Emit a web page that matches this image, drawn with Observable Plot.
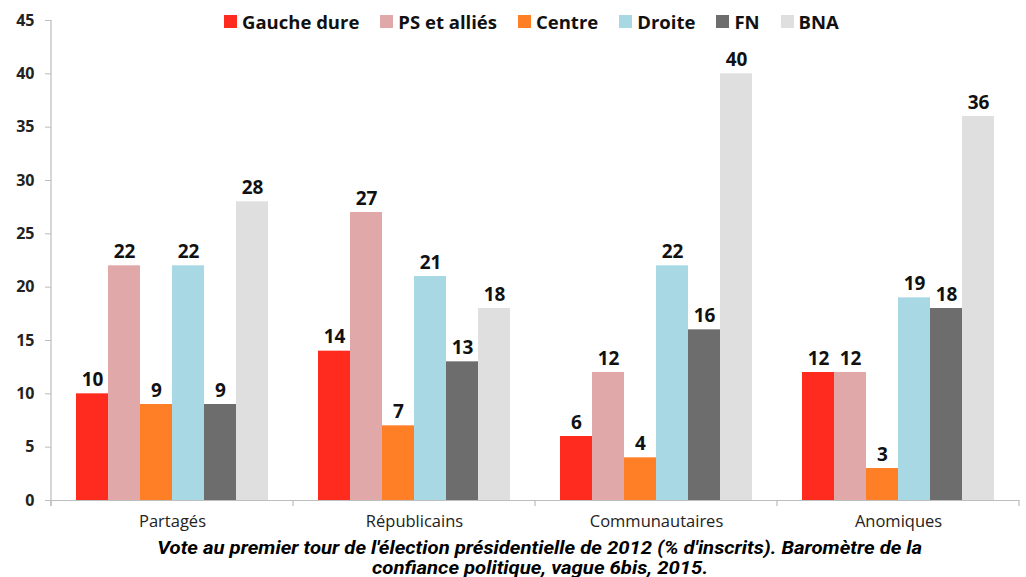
<!DOCTYPE html>
<html>
<head>
<meta charset="utf-8">
<script src="https://cdn.jsdelivr.net/npm/d3@7"></script>
<script src="https://cdn.jsdelivr.net/npm/@observablehq/plot@0.6"></script>
<style>
  html, body { margin: 0; padding: 0; background: #fff; }
  #wrap { position: relative; width: 1026px; height: 577px; overflow: hidden; }
  #legend { position: absolute; top: 9px; left: 224px; display: flex; align-items: center;
            font-family: "Open Sans", sans-serif; font-weight: 700; font-size: 18.5px; color: #111; }
  #legend .item { display: flex; align-items: center; margin-right: 21px; }
  #legend .sw { width: 13px; height: 13px; margin-right: 5px; }
  #caption { font-family: "Roboto", "Liberation Sans Narrow", sans-serif; font-weight: 700;
             font-style: italic; font-size: 19px; line-height: 20px; text-align: center; color: #000;
             width: 1026px; margin-top: 4px; padding-left: 54px; box-sizing: border-box; }
  #caption div { white-space: nowrap; display: block; }
  #caption span { display: inline-block; transform-origin: center center; }
</style>
</head>
<body>
<div id="wrap">
  <div id="chart"></div>
  <div id="legend"></div>
  <div id="caption"></div>
</div>
<script>
const groups = ["Partagés", "Républicains", "Communautaires", "Anomiques"];
const series = ["Gauche dure", "PS et alliés", "Centre", "Droite", "FN", "BNA"];
const colors = ["#ff2b1e", "#e0a8a8", "#ff7f27", "#a8d8e4", "#6d6d6d", "#dfdfdf"];
const gaucheDure = [10, 14, 6, 12];
const psAllies = [22, 27, 12, 12];
const centre = [9, 7, 4, 3];
const droite = [22, 21, 22, 19];
const fn = [9, 13, 16, 18];
const bna = [28, 18, 40, 36];
const yTicks = [0, 5, 10, 15, 20, 25, 30, 35, 40, 45];
const captionLines = [
  "Vote au premier tour de l'élection présidentielle de 2012 (% d'inscrits). Baromètre de la",
  "confiance politique, vague 6bis, 2015."
];

const valuesBySeries = [gaucheDure, psAllies, centre, droite, fn, bna];
const data = [];
groups.forEach((g, i) => series.forEach((s, j) => data.push({group: g, series: s, value: valuesBySeries[j][i]})));

const chart = Plot.plot({
  width: 1026,
  height: 534,
  marginLeft: 50,
  marginRight: 6,
  marginTop: 20,
  marginBottom: 34,
  style: {fontFamily: "'Open Sans', sans-serif", background: "#fff"},
  fx: {domain: groups, padding: 0, label: null},
  x: {domain: series, paddingInner: 0, paddingOuter: 0.73, axis: null},
  y: {domain: [0, 45], ticks: yTicks, label: null},
  color: {domain: series, range: colors},
  marks: [
    Plot.barY(data, {fx: "group", x: "series", y: "value", fill: "series", inset: 0}),
    Plot.ruleY([0], {stroke: "#bdbdbd", strokeWidth: 1.2}),
    Plot.text(data, {fx: "group", x: "series", y: "value", text: d => String(d.value),
      dy: -14, lineAnchor: "middle", fontWeight: 700, fontSize: 19, fill: "#111"}),
    Plot.axisY({ticks: yTicks, tickSize: 6, tickPadding: 11, fontSize: 16, fontWeight: 700,
      stroke: "#bdbdbd", color: "#222", label: null}),
    Plot.axisFx({anchor: "bottom", tickSize: 0, tickPadding: 15, fontSize: 16.5, color: "#222", label: null})
  ]
});
document.getElementById("chart").appendChild(chart);

d3.select(chart).selectAll("[aria-label='y-axis tick label'] text").attr("fill", "#222");

try {
  const ys = chart.scale("y");
  const fxs = chart.scale("fx");
  const y0 = ys.apply(0), y45 = ys.apply(45);
  const svg = d3.select(chart);
  const x0 = fxs.apply(groups[0]);
  svg.append("line").attr("x1", x0).attr("x2", x0).attr("y1", y45).attr("y2", y0 + 6)
    .attr("stroke", "#bdbdbd").attr("stroke-width", 1.2);
  const bounds = groups.map(g => fxs.apply(g)).concat([fxs.apply(groups[groups.length - 1]) + fxs.bandwidth]);
  bounds.forEach(b => svg.append("line").attr("x1", b).attr("x2", b).attr("y1", y0).attr("y2", y0 + 6)
    .attr("stroke", "#bdbdbd").attr("stroke-width", 1.2));
} catch (e) { console.error(e); }

const legend = d3.select("#legend");
series.forEach((s, j) => {
  const it = legend.append("div").attr("class", "item");
  it.append("div").attr("class", "sw").style("background", colors[j]);
  it.append("span").text(s);
});

const cap = d3.select("#caption");
const spans = captionLines.map(l => cap.append("div").append("span").text(l).node());
const w0 = spans[0].getBoundingClientRect().width;
const k = w0 > 0 ? 765 / w0 : 1;
spans.forEach(s => s.style.transform = `scaleX(${k})`);
</script>
</body>
</html>
